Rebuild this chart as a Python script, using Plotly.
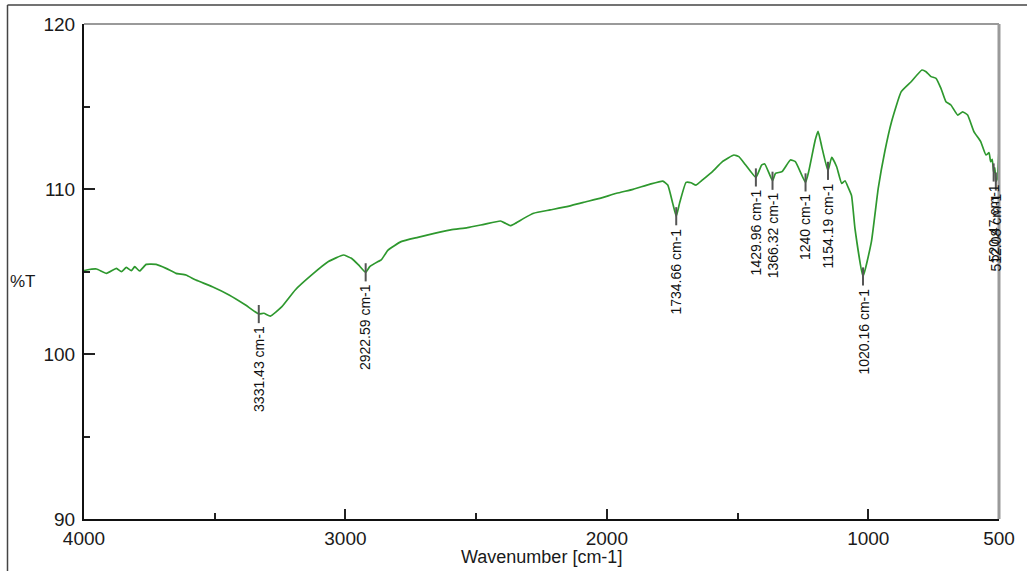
import numpy as np
import plotly.graph_objects as go

# FTIR spectrum: wavenumber (cm-1) and transmittance (%T)
wavenumber = [
    4000, 3990, 3952, 3914, 3876, 3857, 3838, 3819, 3806, 3787, 3762, 3724,
    3686, 3648, 3610, 3572, 3509, 3445, 3382, 3331.43, 3312, 3287, 3243, 3192,
    3129, 3065, 3008, 2977, 2950, 2922.59, 2907, 2875, 2863, 2837, 2787, 2723,
    2660, 2597, 2533, 2470, 2407, 2388, 2369, 2350, 2318, 2280, 2217, 2153,
    2090, 2027, 1963, 1900, 1837, 1786, 1767, 1748, 1734.66, 1722, 1697, 1678,
    1659, 1634, 1596, 1558, 1514, 1495, 1469, 1429.96, 1408, 1396, 1366.32,
    1355, 1330, 1298, 1279, 1240, 1228, 1203, 1192, 1178, 1154.19, 1140, 1121,
    1102, 1089, 1077, 1064, 1051, 1020.16, 988, 962, 937, 911, 874, 836, 795,
    779, 760, 741, 722, 703, 684, 658, 639, 620, 596, 570, 550, 538, 532, 526,
    520.47, 516, 512.08, 507, 500,
]
transmittance = [
    105.05, 105.09, 105.15, 104.89, 105.19, 104.99, 105.25, 105.05, 105.29,
    105.03, 105.43, 105.43, 105.19, 104.89, 104.79, 104.48, 104.08, 103.58,
    102.97, 102.42, 102.47, 102.30, 102.87, 103.88, 104.79, 105.60, 106.00,
    105.80, 105.40, 104.95, 105.29, 105.60, 105.70, 106.30, 106.81, 107.07,
    107.31, 107.52, 107.66, 107.86, 108.06, 107.92, 107.78, 107.92, 108.22,
    108.53, 108.73, 108.93, 109.19, 109.43, 109.74, 109.98, 110.28, 110.48,
    110.24, 109.13, 108.35, 109.13, 110.40, 110.38, 110.24, 110.55, 111.05,
    111.66, 112.06, 111.96, 111.45, 110.70, 111.45, 111.52, 110.50, 110.95,
    111.05, 111.76, 111.66, 110.40, 111.05, 112.97, 113.50, 112.57, 111.10,
    111.92, 111.35, 110.34, 110.50, 110.10, 109.60, 107.62, 104.70, 106.81,
    110.04, 112.26, 114.08, 115.90, 116.50, 117.21, 117.11, 116.81, 116.71,
    116.10, 115.29, 115.09, 114.48, 114.68, 114.48, 113.48, 112.87, 112.06,
    112.20, 111.65, 111.80, 111.00, 111.30, 110.45, 110.60, 112.36,
]

# Labelled absorption bands
peak_wavenumber = [3331.43, 2922.59, 1734.66, 1429.96, 1366.32, 1240,
                   1154.19, 1020.16, 520.47, 512.08]
peak_labels = ["3331.43 cm-1", "2922.59 cm-1", "1734.66 cm-1", "1429.96 cm-1",
               "1366.32 cm-1", "1240 cm-1", "1154.19 cm-1", "1020.16 cm-1",
               "520.47 cm-1", "512.08 cm-1"]

x_ticks = [4000, 3000, 2000, 1000, 500]
x_minor = [3500, 2500, 1500]
y_ticks = [90, 100, 110, 120]
y_minor = [95, 105, 115]

wn = np.array(wavenumber[::-1], dtype=float)
tr = np.array(transmittance[::-1], dtype=float)
peak_t = np.interp(peak_wavenumber, wn, tr)

fig = go.Figure()

fig.add_trace(go.Scatter(
    x=wavenumber, y=transmittance, mode="lines",
    line=dict(color="#2e982e", width=1.7, shape="spline", smoothing=0.4),
    hoverinfo="skip", showlegend=False,
))

# short marker bars through each labelled band
half = 0.55
mx, my = [], []
for w, t in zip(peak_wavenumber, peak_t):
    mx += [w, w, None]
    my += [t + half, t - half, None]
fig.add_trace(go.Scatter(
    x=mx, y=my, mode="lines", line=dict(color="#555555", width=2),
    hoverinfo="skip", showlegend=False,
))

for w, t, lab in zip(peak_wavenumber, peak_t, peak_labels):
    fig.add_annotation(
        x=w, y=t - half, xref="x", yref="y", text=lab, textangle=-90,
        showarrow=False, xanchor="center", yanchor="top", yshift=-1,
        font=dict(family="Liberation Sans, Arial", size=14, color="#111"),
    )

axis_font = dict(family="Liberation Sans, Arial", size=19, color="#1a1a1a")

fig.update_xaxes(
    range=[4000, 500], tickvals=x_ticks, ticktext=[str(v) for v in x_ticks],
    ticks="inside", ticklen=10, tickwidth=1.5, tickcolor="#222",
    minor=dict(tickvals=x_minor, ticks="inside", ticklen=6, tickwidth=1.5,
               tickcolor="#222", showgrid=False),
    showline=True, linecolor="#111", linewidth=2, showgrid=False,
    zeroline=False, tickfont=axis_font, ticklabelstandoff=1,
)
fig.update_yaxes(
    range=[90, 120], tickvals=y_ticks, ticktext=[str(v) for v in y_ticks],
    ticks="inside", ticklen=11, tickwidth=1.5, tickcolor="#222",
    minor=dict(tickvals=y_minor, ticks="inside", ticklen=6, tickwidth=1.5,
               tickcolor="#222", showgrid=False),
    showline=True, linecolor="#111", linewidth=2, showgrid=False,
    zeroline=False, tickfont=axis_font, ticklabelstandoff=3,
)

# plot-area frame (top and right) and outer figure frame
fig.add_shape(type="line", xref="paper", yref="paper", x0=0, x1=1, y0=1, y1=1,
              line=dict(color="#9a9a9a", width=2))
fig.add_shape(type="line", xref="paper", yref="paper", x0=1, x1=1, y0=0, y1=1,
              line=dict(color="#9a9a9a", width=3))
fig.add_shape(type="line", xref="paper", yref="paper",
              x0=-77 / 921, x1=1.05, y0=514 / 495, y1=514 / 495,
              line=dict(color="#444", width=1.5))
fig.add_shape(type="line", xref="paper", yref="paper",
              x0=-77 / 921, x1=-77 / 921, y0=-0.2, y1=514 / 495,
              line=dict(color="#444", width=1.5))

# axis titles
fig.add_annotation(text="Wavenumber [cm-1]", xref="paper", yref="paper",
                   x=(544 - 84) / 921, y=(519 - 557) / 495, showarrow=False,
                   xanchor="center", yanchor="middle",
                   font=dict(family="Liberation Sans, Arial", size=18,
                             color="#1a1a1a"))
fig.add_annotation(text="%T", xref="paper", yref="paper",
                   x=(7 - 84) / 921, y=(519 - 281) / 495, showarrow=False,
                   xanchor="left", yanchor="middle",
                   font=dict(family="Liberation Sans, Arial", size=17,
                             color="#1a1a1a"))

fig.update_layout(
    width=1027, height=571,
    margin=dict(l=84, r=22, t=24, b=52),
    paper_bgcolor="white", plot_bgcolor="white",
    showlegend=False,
)

fig.write_html("out.html")
